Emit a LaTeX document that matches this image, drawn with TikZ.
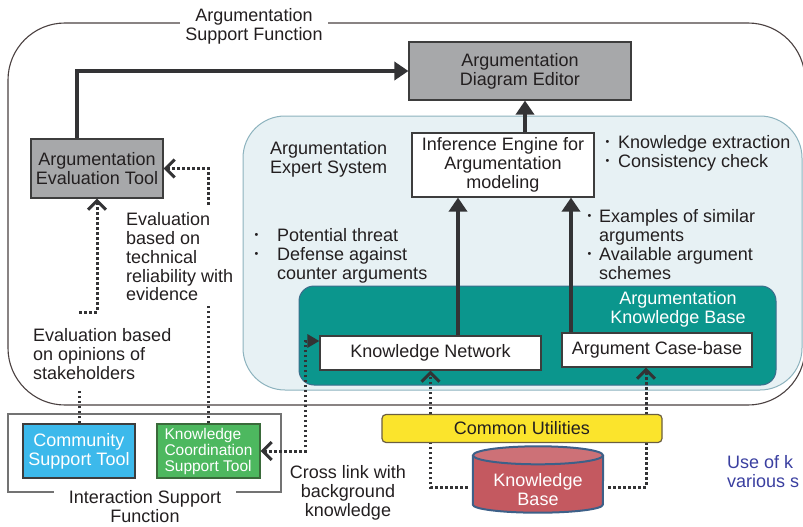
\documentclass[tikz,border=0pt]{standalone}
\usepackage{fontspec}
\setmainfont{Liberation Sans}
\usepackage{tikz}
\usetikzlibrary{positioning}
\usetikzlibrary{arrows.meta}

\definecolor{inkgray}{HTML}{231F20}
\definecolor{arrowgray}{HTML}{333335}
\definecolor{framegray}{HTML}{4A4040}
\definecolor{toolgray}{HTML}{A7A8AA}
\definecolor{boxline}{HTML}{3D3D3D}
\definecolor{expfill}{HTML}{E7F1F4}
\definecolor{expline}{HTML}{8DB3BE}
\definecolor{akbteal}{HTML}{0B968D}
\definecolor{akbline}{HTML}{3C6D8C}
\definecolor{cstblue}{HTML}{3CB9EB}
\definecolor{kcstgreen}{HTML}{4DB85F}
\definecolor{kcstline}{HTML}{3A6A3A}
\definecolor{utilyellow}{HTML}{FBE42C}
\definecolor{utilline}{HTML}{6B5E40}
\definecolor{kbbody}{HTML}{C45960}
\definecolor{kbtop}{HTML}{CD7177}
\definecolor{kbline}{HTML}{3D6088}
\definecolor{noteblue}{HTML}{3A3FA0}

\tikzset{
  box/.style={draw=boxline, line width=1.2pt, inner sep=0pt, align=center, text=inkgray},
  graybox/.style={box, fill=toolgray},
  whitebox/.style={box, fill=white},
  note/.style={inner sep=0pt, align=left, anchor=north west, text=inkgray},
  frame/.style={draw=framegray, line width=1.1pt},
  thickarr/.style={line width=3.8pt, draw=arrowgray, -{Triangle[length=14pt,width=18pt]}},
  dotln/.style={line width=3pt, draw=arrowgray, dash pattern=on 2.6pt off 2.4pt},
  barb/.style={-{Straight Barb[length=9pt,width=18pt]}},
}
\newcommand{\bul}[1][12pt]{\makebox[#1][l]{\raisebox{0.35ex}{\scalebox{0.6}{\textbullet}}}}

\begin{document}
\begin{tikzpicture}[x=1pt,y=-1pt,font=\fontsize{18}{18.8}\selectfont]
  \clip (0,0) rectangle (803,527);

  % frames
  \draw[frame, rounded corners=57pt] (8,23) rectangle (805,405);
  \node[note, anchor=north, align=center, fill=white, inner xsep=5.5pt] (asftitle) at (254,8.5) {Argumentation\\Support Function};
  \draw[fill=expfill, draw=expline, line width=1pt, rounded corners=42pt] (243,116) rectangle (802,390);
  \draw[fill=akbteal, draw=akbline, line width=1pt, rounded corners=15pt] (299,286) rectangle (776,385);
  \draw[frame, draw=gray!90!black] (8,414) rectangle (281,492);
  \node[note, anchor=north, align=center, fill=white, inner xsep=15pt] (isftitle) at (145,490.5) {Interaction Support\\Function};

  % boxes
  \node[graybox, minimum width=222pt, minimum height=58pt] (editor) at (520,71) {Argumentation\\Diagram Editor};
  \node[graybox, minimum width=132pt, minimum height=59pt] (evaltool) at (97,168.5) {Argumentation\\Evaluation Tool};
  \node[whitebox, minimum width=182pt, minimum height=64pt] (infeng) at (503,165) {Inference Engine for\\Argumentation\\modeling};
  \node[whitebox, minimum width=221pt, minimum height=34pt] (knet) at (430.5,353) {Knowledge Network};
  \node[whitebox, minimum width=190pt, minimum height=34pt] (casebase) at (657,350) {Argument Case-base};
  \node[box, fill=cstblue, text=white, minimum width=112pt, minimum height=54pt] (cst) at (79,451) {Community\\Support Tool};
  \node[box, fill=kcstgreen, draw=kcstline, text=white, align=left, minimum width=103pt, minimum height=54pt,
        font=\fontsize{15.5}{16}\selectfont] (kcst) at (208.5,451) {Knowledge\\Coordination\\Support Tool};

  % knowledge base cylinder
  \node[minimum width=130pt, minimum height=66pt, inner sep=0pt] (kbase) at (538,479.5) {};
  \draw[fill=kbbody, draw=kbline, line width=2pt]
    ([yshift=-9pt]kbase.north west) -- ([yshift=8pt]kbase.south west)
    arc[start angle=180, end angle=360, x radius=65pt, y radius=8pt]
    -- ([yshift=-9pt]kbase.north east);
  \draw[fill=kbtop, draw=kbline, line width=2pt] ([yshift=-9pt]kbase.north) ellipse[x radius=65pt, y radius=9pt];
  \node[text=white, align=center, inner sep=0pt] (kbtext) at ([yshift=-10pt]kbase.center) {Knowledge\\Base};

  % texts
  \node[note] (esnote) at (270,141.5) {Argumentation\\Expert System};
  \node[note, anchor=north, align=center, text=white] (akbnote) at (678,291.5) {Argumentation\\Knowledge Base};
  \node[note] (ienote) at (605.5,135.5) {\bul[12.5pt]Knowledge extraction\\\bul[12.5pt]Consistency check};
  \node[note] (threatnote) at (254.5,228.5) {\bul[22.5pt]Potential threat\\\bul[22.5pt]Defense against\\\hspace*{22.5pt}counter arguments};
  \node[note] (casenote) at (587.5,209.5) {\bul[11.5pt]Examples of similar\\\hspace*{11.5pt}arguments\\\bul[11.5pt]Available argument\\\hspace*{11.5pt}schemes};
  \node[note] (technote) at (126,212.5) {Evaluation\\based on\\technical\\reliability with\\evidence};
  \node[note] (opnote) at (33,328.5) {Evaluation based\\on opinions of\\stakeholders};
  \node[note, anchor=north, align=center] (xlinknote) at (348,465.5) {Cross link with\\background\\knowledge};
  \node[note, text=noteblue] (usenote) at (727,455.5) {Use of k\\various s};

  % connectors
  \coordinate (opcorner) at (79,312);
  \coordinate (techcorner) at (208.5,205);
  \coordinate (xlink) at (305.5,400);

  \draw[thickarr] ([xshift=-20pt]evaltool.north) |- (editor.west);
  \draw[thickarr] ([xshift=22pt]infeng.north) -- ([xshift=22pt]infeng.north |- editor.south);
  \draw[thickarr] ([xshift=27.5pt]knet.north) -- ([xshift=27.5pt]knet.north |- infeng.south);
  \draw[thickarr] ([xshift=-86pt]casebase.north) -- ([xshift=-86pt]casebase.north |- infeng.south);

  \draw[dotln, shorten >=10pt] (cst.north) -- (cst.north |- opnote.south);
  \draw[dotln, barb] (opcorner) -| (evaltool.south);
  \draw[dotln, shorten >=5pt] (kcst.north) -- (kcst.north |- technote.south);
  \draw[dotln, barb] (techcorner) |- (evaltool.east);
  \draw[dotln, {Straight Barb[length=9pt,width=18pt]}-{Triangle[length=12pt,width=13pt]}] (kcst.east) -| (xlink) |- ([yshift=12pt]knet.west);
  \draw[dotln, barb] ([xshift=-5pt,yshift=-7.5pt]kbase.west) -| (knet.south);
  \draw[dotln, barb] ([xshift=5pt,yshift=-7.5pt]kbase.east) -| ([xshift=-11pt]casebase.south);

  \node[box, fill=utilyellow, draw=utilline, rounded corners=4pt, minimum width=280pt, minimum height=28pt] (utils) at (522,428.5) {Common Utilities};
\end{tikzpicture}
\end{document}
